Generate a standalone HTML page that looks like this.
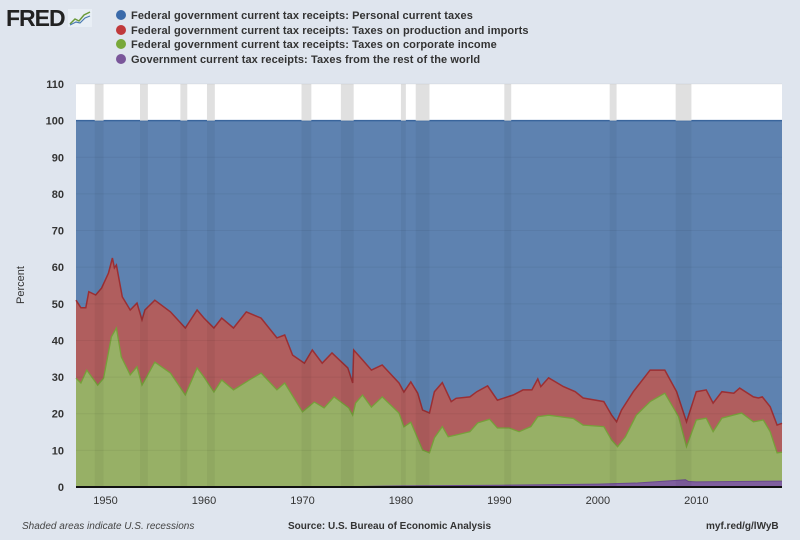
<!DOCTYPE html>
<html><head><meta charset="utf-8">
<style>
body{margin:0;background:#dfe5ee;font-family:"Liberation Sans",sans-serif;}
#wrap{position:relative;width:800px;height:540px;overflow:hidden;background:#dfe5ee;}
.leg{position:absolute;left:116px;font-size:11px;font-weight:bold;color:#333;white-space:nowrap;letter-spacing:0.1px;}
.leg span.dot{display:inline-block;width:10px;height:10px;border-radius:50%;margin-right:5px;vertical-align:-1px;}
</style></head><body>
<div id="wrap">
<div style="position:absolute;left:6px;top:5px;font-size:23px;font-weight:900;letter-spacing:-1px;color:#222;">FRED<svg width="24" height="18" style="margin-left:3px;vertical-align:-1px"><rect x="0" y="0" width="24" height="18" fill="#e8eef5"/><polyline points="2,15 7,10 11,12 16,6 22,3" fill="none" stroke="#6a9a3a" stroke-width="1.5"/><polyline points="2,16 8,13 12,14 17,9 22,7" fill="none" stroke="#4a7ab0" stroke-width="1.2"/></svg></div>
<div class="leg" style="top:10px"><span class="dot" style="background:#3a6aaa"></span>Federal government current tax receipts: Personal current taxes</div>
<div class="leg" style="top:25px"><span class="dot" style="background:#c0393b"></span>Federal government current tax receipts: Taxes on production and imports</div>
<div class="leg" style="top:39px"><span class="dot" style="background:#78a83a"></span>Federal government current tax receipts: Taxes on corporate income</div>
<div class="leg" style="top:54px"><span class="dot" style="background:#7a569a"></span>Government current tax receipts: Taxes from the rest of the world</div>
<svg id="chart" width="800" height="540" style="position:absolute;left:0;top:0"></svg>
<div style="position:absolute;left:22px;top:521px;font-size:10px;font-style:italic;color:#444;">Shaded areas indicate U.S. recessions</div>
<div style="position:absolute;left:288px;top:521px;font-size:10px;font-weight:bold;color:#333;">Source: U.S. Bureau of Economic Analysis</div>
<div style="position:absolute;left:706px;top:521px;font-size:10px;font-weight:bold;color:#333;">myf.red/g/lWyB</div>
</div>
<script>
const yTicks=[0,10,20,30,40,50,60,70,80,90,100,110];
const xTicks=[1950,1960,1970,1980,1990,2000,2010];
const recessions=[[1948.9,1949.8],[1953.5,1954.3],[1957.6,1958.3],[1960.3,1961.1],[1969.9,1970.9],[1973.9,1975.2],[1980.0,1980.5],[1981.5,1982.9],[1990.5,1991.2],[2001.2,2001.9],[2007.9,2009.5]];
// boundary of red (total of production+corporate+world)
const totalYears=[1947,1947.5,1948,1948.3,1949,1949.6,1950.3,1950.7,1950.9,1951.1,1951.7,1952.5,1953.2,1953.7,1954,1955,1956.6,1958.1,1959.3,1960,1961,1961.8,1963,1964.3,1965.8,1967.4,1968.2,1969,1970.2,1971,1972,1973,1974.6,1975.1,1975.2,1976.1,1977,1978.1,1979.8,1980.3,1981,1981.7,1982.2,1982.9,1983.4,1984.2,1985.1,1985.6,1987,1987.7,1988.8,1989.8,1991.4,1992.4,1993.3,1993.9,1994.2,1995,1996.5,1997.7,1998.5,2000.6,2001.4,2001.9,2002.4,2003.6,2005.3,2006.8,2008,2009,2010,2011,2011.7,2012.6,2013.8,2014.4,2015.8,2016.3,2016.7,2017.5,2018.2,2018.7];
const totalPct=[51,48.9,48.9,53.3,52.4,54.3,58.4,62.5,59.8,60.6,51.9,48.3,50.2,45.6,48.3,51,47.8,43.4,48.3,46.1,43.4,46.1,43.4,47.8,46.1,40.7,41.5,36,33.8,37.4,33.8,36.6,32.5,28.4,37.4,34.7,31.9,33.3,28.4,25.9,28.7,25.6,21,20.2,26,28.5,23.3,24.2,24.6,26,27.6,23.7,25.1,26.5,26.5,29.5,27.4,29.8,27.4,26,24.3,23.3,19.6,17.8,21,26,31.9,31.9,26,17.8,26,26.5,22.9,26,25.6,27,24.6,24.3,24.6,21.9,16.9,17.4];
// boundary of green (corporate+world)
const corpYears=[1947,1947.5,1948.1,1949.2,1949.8,1950.6,1951.1,1951.6,1952.5,1953.2,1953.7,1955,1956.6,1958.1,1959.3,1960,1961,1961.8,1963,1964.6,1965.8,1967.4,1968.2,1970,1971.2,1972.2,1973.2,1974.7,1975.1,1975.4,1976.1,1977,1978.1,1979.8,1980.3,1981,1982.2,1982.9,1983.4,1984.2,1984.8,1985.6,1987,1987.8,1989,1989.8,1991,1992,1993.2,1993.9,1995,1997.5,1998.5,2000.6,2001.4,2002,2002.8,2003.9,2005.3,2006.8,2008.2,2009,2010,2011,2011.7,2012.6,2014.6,2015.8,2016.8,2017.5,2018.2,2018.7];
const corpPct=[29.7,28.4,31.9,27.8,29.7,41,43.4,35.5,30.6,32.8,27.8,34.1,31.1,25.1,32.5,30,25.9,29.2,26.5,29.2,31.1,26.5,28.4,20.5,23.2,21.6,24.6,21.6,19.6,22.9,25.1,21.8,24.6,20.2,16.4,17.7,10.1,9.3,13.4,16.5,13.7,14.2,15.1,17.5,18.5,16.1,16.1,15.1,16.5,19.2,19.6,18.7,16.9,16.5,12.8,11,13.7,19.6,23.3,25.6,19.2,11,18.3,18.8,15.1,18.8,20.2,17.8,18.3,15.1,9.3,9.5];
const worldYears=[1947,1975,1980,1990,2000,2004,2008.9,2009.2,2010,2018.7];
const worldPct=[0,0.1,0.3,0.5,0.8,1.1,2.0,1.5,1.4,1.6];

const NS="http://www.w3.org/2000/svg";
const svg=document.getElementById('chart');
const L=76,R=782,T=84,B=487,X0=1947,X1=2018.7,Ymax=110;
const xs=v=>L+(v-X0)/(X1-X0)*(R-L);
const ys=v=>B-v/Ymax*(B-T);
function mk(tag,attrs){const e=document.createElementNS(NS,tag);for(const k in attrs)e.setAttribute(k,attrs[k]);svg.appendChild(e);return e;}
function areaPath(xa,va,baseY){let d='M'+xs(xa[0])+','+baseY;xa.forEach((x,i)=>{d+=' L'+xs(x).toFixed(1)+','+ys(va[i]).toFixed(1);});d+=' L'+xs(xa[xa.length-1])+','+baseY+' Z';return d;}
function linePath(xa,va){return xa.map((x,i)=>(i?'L':'M')+xs(x).toFixed(1)+','+ys(va[i]).toFixed(1)).join(' ');}

let e=mk('rect',{x:L,y:T,width:R-L,height:B-T,fill:'#ffffff'});

e=mk('rect',{x:L,y:ys(100),width:R-L,height:B-ys(100),fill:'#5e82b0'});

e=mk('path',{d:areaPath(totalYears,totalPct,B),fill:'#b05e5e'});

e=mk('path',{d:areaPath(corpYears,corpPct,B),fill:'#97b066'});

e=mk('path',{d:areaPath(worldYears,worldPct,B),fill:'#7f5f9e'});

e=mk('line',{x1:L,x2:R,y1:ys(100),y2:ys(100),stroke:'#3d6aa3','stroke-width':1.5});

e=mk('path',{d:linePath(totalYears,totalPct),fill:'none',stroke:'#9c2f33','stroke-width':1.5});

e=mk('path',{d:linePath(corpYears,corpPct),fill:'none',stroke:'#76a03a','stroke-width':1.3});

e=mk('path',{d:linePath(worldYears,worldPct),fill:'none',stroke:'#6a4a8e','stroke-width':1});

recessions.forEach(r=>{
  let a=mk('rect',{x:xs(r[0]),y:T,width:xs(r[1])-xs(r[0]),height:ys(100)-T,fill:'#e0e0e0'});
  
  let b=mk('rect',{x:xs(r[0]),y:ys(100)+1,width:xs(r[1])-xs(r[0]),height:B-ys(100)-1,fill:'rgba(0,0,0,0.045)'});
  
});
yTicks.forEach(t=>{
  if(t>0){let g=mk('line',{x1:L,x2:R,y1:ys(t),y2:ys(t),stroke:'rgba(0,0,0,0.05)','stroke-width':1});
  }
  let tx=mk('text',{x:L-12,y:ys(t)+4,'text-anchor':'end','font-size':'11','font-weight':'bold',fill:'#333'});
  tx.textContent=t;
  
});
xTicks.forEach(t=>{
  let tx=mk('text',{x:xs(t),y:B+17,'text-anchor':'middle','font-size':'11',fill:'#333'});
  tx.textContent=t;
  
});
e=mk('line',{x1:L,x2:R,y1:B,y2:B,stroke:'#111','stroke-width':2});

e=mk('text',{x:24,y:285,transform:'rotate(-90 24 285)','text-anchor':'middle','font-size':'11',fill:'#333'});
e.textContent='Percent';

</script>
</body></html>
